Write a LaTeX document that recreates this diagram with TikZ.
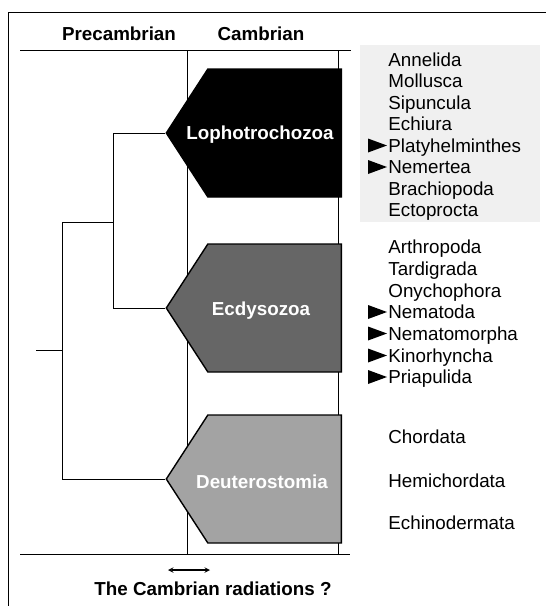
\documentclass[tikz,border=0pt]{standalone}
\usepackage{fontspec}
\setmainfont{Liberation Sans}
\usetikzlibrary{shapes.symbols,calc,positioning}

\begin{document}
\begin{tikzpicture}[x=1pt, y=-1pt, >=stealth, thick,
    font=\fontsize{18.8}{21.5}\selectfont,
    clade/.style={signal, signal to=west, signal from=nowhere,
        signal pointer angle=114, draw=black, line width=1.4pt,
        minimum width=175pt, minimum height=128pt, inner sep=0pt,
        anchor=east},
    cladename/.style={inner sep=0pt, text=white, font=\fontsize{18.8}{21.5}\selectfont\bfseries},
    taxon/.style={anchor=base west, inner sep=0pt},
    era/.style={anchor=base, inner sep=0pt, font=\fontsize{18.8}{21.5}\selectfont\bfseries}]
    \useasboundingbox (0,0) rectangle (546,606);

    % Frame and time axis
    \draw[line width=0.6pt] (546,12) -- (8,12) -- (8,606);
    \coordinate (HL) at (20,50);
    \coordinate (HR) at (351,50);
    \coordinate (BL) at (20,554);
    \coordinate (BR) at (350,554);
    \draw (HL) -- (HR);
    \draw (BL) -- (BR);
    \node[era] (pre) at (119,40) {Precambrian};
    \node[era] (camb) at (261,40) {Cambrian};

    % Boundaries of the Cambrian
    \draw (187,50) -- (187,554);
    \draw (338,50) -- (338,554);

    % Shaded panel behind the lophotrochozoan phyla
    \fill[black!6] (360,45) rectangle (540,222);

    % Clades
    \node[clade, fill=black] (lopho) at (342,133) {};
    \node[clade, fill=black!60] (ecdy) at (342,308) {};
    \node[clade, fill=black!36] (deut) at (342,479) {};
    \node[cladename] (lophoname) at (260,135) {Lophotrochozoa};
    \node[cladename] (ecdyname) at (261,311) {Ecdysozoa};
    \node[cladename] (deutname) at (262,482) {Deuterostomia};

    % Tree
    \coordinate (root) at (36,350);
    \coordinate (n1) at (62,350);
    \coordinate (n2) at (113,222);
    \draw (root) -- (n1);
    \draw (n1 |- n2) -- (n2);
    \draw (n1 |- n2) -- (n1 |- deut.west) -- (deut.west);
    \draw (n2 |- lopho.west) -- (lopho.west);
    \draw (n2 |- lopho.west) -- (n2 |- ecdy.west) -- (ecdy.west);

    % Phyla
    \node[taxon] (anne) at (388,66) {Annelida};
    \node[taxon] (moll) at (388,87.5) {Mollusca};
    \node[taxon] (sipu) at (388,109) {Sipuncula};
    \node[taxon] (echi) at (388,130.5) {Echiura};
    \node[taxon] (platy) at (388,152) {Platyhelminthes};
    \node[taxon] (nemer) at (388,173.5) {Nemertea};
    \node[taxon] (brach) at (388,195) {Brachiopoda};
    \node[taxon] (ecto) at (388,216.5) {Ectoprocta};

    \node[taxon] (arth) at (388,253) {Arthropoda};
    \node[taxon] (tard) at (388,275) {Tardigrada};
    \node[taxon] (onyc) at (388,297) {Onychophora};
    \node[taxon] (nemat) at (388,318.5) {Nematoda};
    \node[taxon] (nemorph) at (388,340) {Nematomorpha};
    \node[taxon] (kino) at (388,362) {Kinorhyncha};
    \node[taxon] (pria) at (388,383.5) {Priapulida};

    \node[taxon] (chor) at (388,443) {Chordata};
    \node[taxon] (hemi) at (388,487) {Hemichordata};
    \node[taxon] (echin) at (388,529) {Echinodermata};

    % Markers
    \foreach \n in {platy,nemer,nemat,nemorph,kino,pria}
        \fill ($(\n.base west)+(-20,0.5)$) -- ++(0,-14) -- ++(19,7) -- cycle;

    % Radiations
    \coordinate (RL) at (168,570);
    \coordinate (RR) at (210,570);
    \draw[<->, line width=1.4pt] (RL) -- (RR);
    \node[era] (rad) at (213,595) {The Cambrian radiations ?};
\end{tikzpicture}
\end{document}
